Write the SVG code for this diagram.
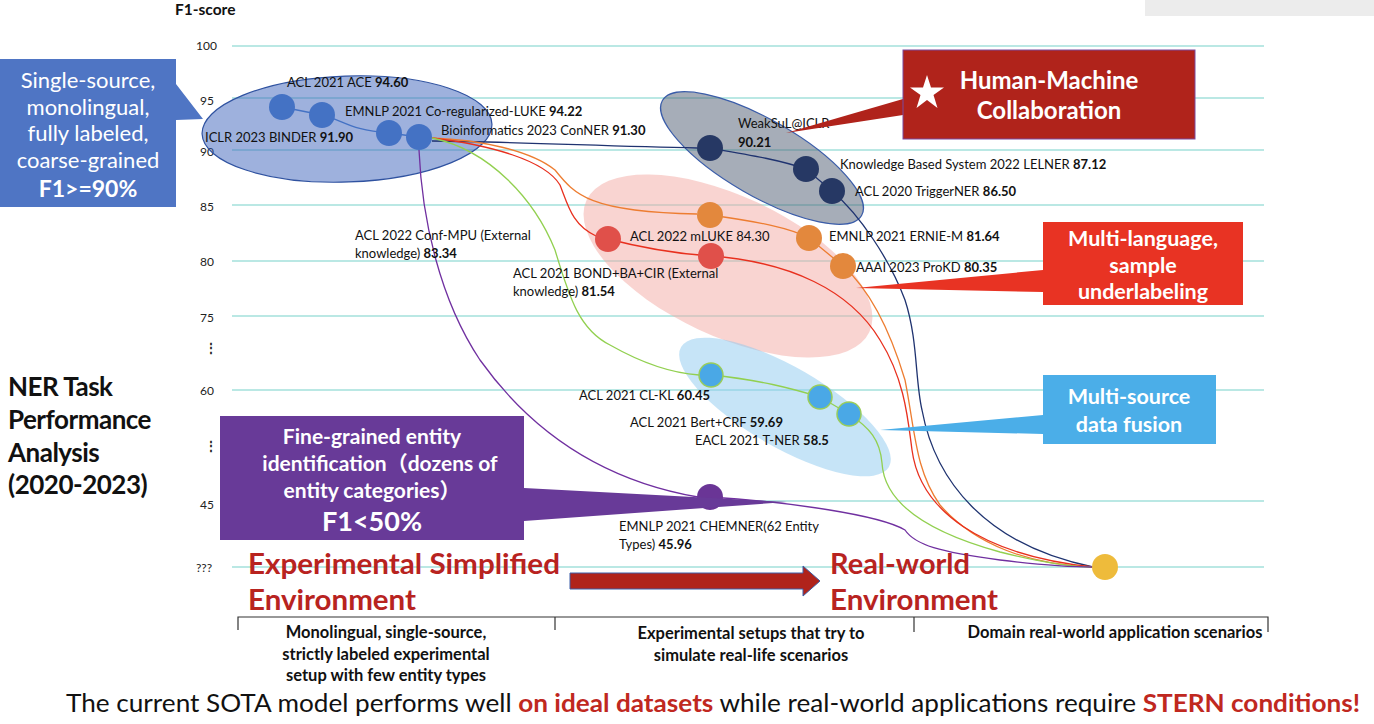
<svg xmlns="http://www.w3.org/2000/svg" width="1374" height="724" viewBox="0 0 1374 724">
<style>
text{font-family:Lato,"Noto Sans",sans-serif;}
.grid{stroke:#a3e1db;stroke-width:1.5;}
.ax{font-size:12px;fill:#222;}
.lb{font-size:13px;fill:#111;}
.lb tspan.b{font-weight:bold;}
.cw{fill:#fff;font-weight:bold;text-anchor:middle;}
.conn{fill:none;stroke-width:1.3;}
.env{fill:#b8231f;font-weight:bold;font-size:28px;}
.bt{font-size:16.5px;font-weight:bold;fill:#111;text-anchor:middle;}
</style>
<rect x="0" y="0" width="1374" height="724" fill="#fff"/>
<rect x="1145" y="0" width="229" height="16" fill="#ececec"/>
<text x="175" y="15" font-size="15.5" font-weight="bold" fill="#111">F1-score</text>

<g id="gridlines">
<line class="grid" x1="232" y1="46" x2="1264" y2="46"/>
<line class="grid" x1="232" y1="98" x2="1264" y2="98"/>
<line class="grid" x1="232" y1="150" x2="1264" y2="150"/>
<line class="grid" x1="232" y1="205" x2="1264" y2="205"/>
<line class="grid" x1="232" y1="261" x2="1264" y2="261"/>
<line class="grid" x1="232" y1="316" x2="1264" y2="316"/>
<line class="grid" x1="232" y1="390" x2="1264" y2="390"/>
<line class="grid" x1="232" y1="501" x2="1264" y2="501"/>
<line class="grid" x1="232" y1="567" x2="1264" y2="567"/>
</g>
<g id="axis-labels">
<text class="ax" x="196" y="50">100</text>
<text class="ax" x="200" y="105">95</text>
<text class="ax" x="200" y="156">90</text>
<text class="ax" x="200" y="211">85</text>
<text class="ax" x="200" y="266">80</text>
<text class="ax" x="200" y="322">75</text>
<text class="ax" x="205" y="352" font-weight="bold">⋮</text>
<text class="ax" x="200" y="395">60</text>
<text class="ax" x="205" y="450" font-weight="bold">⋮</text>
<text class="ax" x="200" y="509">45</text>
<text class="ax" x="196" y="572">???</text>
</g>

<g id="regions">
<ellipse cx="347" cy="129" rx="145" ry="53" transform="rotate(-2 347 129)" fill="#3e63bc" fill-opacity="0.5" stroke="#2f52a0" stroke-width="1.2"/>
<ellipse cx="762" cy="158" rx="115" ry="38" transform="rotate(30 762 158)" fill="#4d5b71" fill-opacity="0.5" stroke="#3a5ca8" stroke-width="1.2"/>
<ellipse cx="728" cy="266" rx="156" ry="70" transform="rotate(25 728 266)" fill="#f4a9a4" fill-opacity="0.5"/>
<ellipse cx="785" cy="407" rx="120" ry="40" transform="rotate(30 785 407)" fill="#8dc9ef" fill-opacity="0.5"/>
</g>

<g id="connectors">
<path class="conn" stroke="#4472c4" d="M282,107 L322,115 C345,121 350,130 389,133 L419,137"/>
<path class="conn" stroke="#1f3370" d="M432,141 C520,142 600,146 697,148"/>
<path class="conn" stroke="#1f3370" d="M710,148 C750,155 780,160 806,169 L832,191 C860,215 890,260 905,300 C918,340 915,380 922,410 C935,480 985,545 1093,567"/>
<path class="conn" stroke="#ed7d31" d="M432,138 C480,140 530,150 555,170 C575,195 590,212 697,214"/>
<path class="conn" stroke="#ed7d31" d="M710,215 C760,222 790,228 809,238 L843,266 C870,290 890,330 905,380 C915,430 915,470 940,505 C975,545 1030,565 1093,567"/>
<path class="conn" stroke="#e8301e" d="M432,138 C490,145 545,160 560,185 C568,205 572,225 596,236"/>
<path class="conn" stroke="#e8301e" d="M608,239 C650,250 680,254 711,256 C790,262 850,290 880,340 C905,380 908,420 912,450 C920,510 980,555 1093,567"/>
<path class="conn" stroke="#92d050" d="M432,138 C490,150 535,200 555,250 C570,300 580,330 610,345 C640,362 670,373 699,375"/>
<path class="conn" stroke="#92d050" d="M711,375 C760,380 790,388 820,397 L849,414 C870,428 880,440 882,463 C884,500 920,530 1000,552 C1040,562 1070,567 1093,567"/>
<path class="conn" stroke="#7030a0" d="M419,150 C422,220 440,300 480,360 C530,430 600,480 698,497"/>
<path class="conn" stroke="#7030a0" d="M710,497 C790,502 880,515 905,530 C915,545 940,552 1000,560 C1040,565 1070,567 1093,567"/>
</g>

<g id="nodes">
<g id="n-ace"><circle cx="282" cy="107" r="13" fill="#4472c4"/></g>
<g id="n-luke"><circle cx="322" cy="115" r="13" fill="#4472c4"/></g>
<g id="n-binder"><circle cx="389" cy="133" r="13" fill="#4472c4"/></g>
<g id="n-conner"><circle cx="419" cy="137" r="13" fill="#4472c4"/></g>
<g id="n-weaksul"><circle cx="710" cy="148" r="13" fill="#263864"/></g>
<g id="n-lelner"><circle cx="806" cy="169" r="13" fill="#263864"/></g>
<g id="n-trigger"><circle cx="832" cy="191" r="13" fill="#263864"/></g>
<g id="n-mluke-o"><circle cx="710" cy="215" r="13" fill="#e3883d"/></g>
<g id="n-ernie"><circle cx="809" cy="238" r="13" fill="#e3883d"/></g>
<g id="n-prokd"><circle cx="843" cy="266" r="13" fill="#e3883d"/></g>
<g id="n-confmpu"><circle cx="608" cy="239" r="13" fill="#e0504a"/></g>
<g id="n-bond"><circle cx="711" cy="256" r="13" fill="#e0504a"/></g>
<g id="n-clkl"><circle cx="711" cy="375" r="12" fill="#4aa8e6" stroke="#9acd5a" stroke-width="1.5"/></g>
<g id="n-bertcrf"><circle cx="820" cy="397" r="12" fill="#4aa8e6" stroke="#9acd5a" stroke-width="1.5"/></g>
<g id="n-tner"><circle cx="849" cy="414" r="12" fill="#4aa8e6" stroke="#9acd5a" stroke-width="1.5"/></g>
<g id="n-chemner"><circle cx="710" cy="497" r="13" fill="#6a3596"/></g>
<g id="n-real"><circle cx="1105" cy="567" r="13" fill="#eebb3b"/></g>
</g>

<g id="node-labels">
<text class="lb" x="287" y="87">ACL 2021 ACE <tspan class="b">94.60</tspan></text>
<text class="lb" x="345" y="116">EMNLP 2021 Co-regularized-LUKE <tspan class="b">94.22</tspan></text>
<text class="lb" x="205" y="142">ICLR 2023 BINDER <tspan class="b">91.90</tspan></text>
<text class="lb" x="441" y="135">Bioinformatics 2023 ConNER <tspan class="b">91.30</tspan></text>
<text class="lb" x="738" y="128">WeakSuL@ICLR</text>
<text class="lb" x="738" y="147"><tspan class="b">90.21</tspan></text>
<text class="lb" x="840" y="169">Knowledge Based System 2022 LELNER <tspan class="b">87.12</tspan></text>
<text class="lb" x="855" y="196">ACL 2020 TriggerNER <tspan class="b">86.50</tspan></text>
<text class="lb" x="630" y="241">ACL 2022 mLUKE 84.30</text>
<text class="lb" x="829" y="241">EMNLP 2021 ERNIE-M <tspan class="b">81.64</tspan></text>
<text class="lb" x="856" y="272">AAAI 2023 ProKD <tspan class="b">80.35</tspan></text>
<text class="lb" x="355" y="240">ACL 2022 Conf-MPU (External</text>
<text class="lb" x="355" y="258">knowledge) <tspan class="b">83.34</tspan></text>
<text class="lb" x="513" y="278">ACL 2021 BOND+BA+CIR (External</text>
<text class="lb" x="513" y="296">knowledge) <tspan class="b">81.54</tspan></text>
<text class="lb" x="579" y="400">ACL 2021 CL-KL <tspan class="b">60.45</tspan></text>
<text class="lb" x="630" y="427">ACL 2021 Bert+CRF <tspan class="b">59.69</tspan></text>
<text class="lb" x="695" y="445">EACL 2021 T-NER <tspan class="b">58.5</tspan></text>
<text class="lb" x="619" y="531">EMNLP 2021 CHEMNER(62 Entity</text>
<text class="lb" x="619" y="549">Types) <tspan class="b">45.96</tspan></text>
</g>

<g id="callout-single-source">
<path d="M0,59 H176 V84 L203,119 L176,120 V207 H0 Z" fill="#4f75c4"/>
<text x="88" y="88" font-size="22" fill="#fff" text-anchor="middle">Single-source,</text>
<text x="88" y="115" font-size="22" fill="#fff" text-anchor="middle">monolingual,</text>
<text x="88" y="141" font-size="22" fill="#fff" text-anchor="middle">fully labeled,</text>
<text x="88" y="168" font-size="22" fill="#fff" text-anchor="middle">coarse-grained</text>
<text x="88" y="197" font-size="23" class="cw">F1&gt;=90%</text>
</g>

<g id="callout-human-machine">
<polygon points="903,99 786,133 903,115" fill="#b0231b"/>
<rect x="903" y="50" width="292" height="89" fill="#b0231b" stroke="#7b4aa0" stroke-width="1"/>
<polygon points="927,75 931,87.5 944,87.5 933.5,95 937.5,108 927,100 916.5,108 920.5,95 910,87.5 923,87.5" fill="#fff"/>
<text x="1049" y="89" font-size="24" class="cw">Human-Machine</text>
<text x="1049" y="119" font-size="24" class="cw">Collaboration</text>
</g>

<g id="callout-multi-language">
<polygon points="1043,270 856,288 1043,292" fill="#e83323"/>
<rect x="1043" y="222" width="200" height="83" fill="#e83323"/>
<text x="1143" y="246" font-size="21.5" class="cw">Multi-language,</text>
<text x="1143" y="273" font-size="21.5" class="cw">sample</text>
<text x="1143" y="299" font-size="21.5" class="cw">underlabeling</text>
</g>

<g id="callout-multi-source">
<polygon points="1043,415 880,430 1043,434" fill="#4baee8"/>
<rect x="1043" y="375" width="173" height="69" fill="#4baee8"/>
<text x="1129" y="404" font-size="21.5" class="cw">Multi-source</text>
<text x="1129" y="432" font-size="21.5" class="cw">data fusion</text>
</g>

<g id="callout-fine-grained">
<polygon points="524,488 787,502 524,521" fill="#683a98"/>
<rect x="220" y="416" width="304" height="124" fill="#683a98"/>
<text x="372" y="444" font-size="21" class="cw">Fine-grained entity</text>
<text x="380" y="471" font-size="21" class="cw">identification<tspan font-family="'Noto Sans CJK SC',sans-serif">（</tspan>dozens of</text>
<text x="372" y="498" font-size="21" class="cw">entity categories<tspan font-family="'Noto Sans CJK SC',sans-serif">）</tspan></text>
<text x="372" y="531" font-size="27" class="cw">F1&lt;50%</text>
</g>

<g id="title">
<text x="8" y="396" font-size="26" font-weight="bold" fill="#111" letter-spacing="-0.5">NER Task</text>
<text x="8" y="429" font-size="26" font-weight="bold" fill="#111" letter-spacing="-0.5">Performance</text>
<text x="8" y="462" font-size="26" font-weight="bold" fill="#111" letter-spacing="-0.5">Analysis</text>
<text x="8" y="494" font-size="26" font-weight="bold" fill="#111" letter-spacing="-0.5">(2020-2023)</text>
</g>

<g id="environments">
<text class="env" x="248" y="574" textLength="312" lengthAdjust="spacingAndGlyphs">Experimental Simplified</text>
<text class="env" x="248" y="610" textLength="168" lengthAdjust="spacingAndGlyphs">Environment</text>
<text class="env" x="830" y="574" textLength="140" lengthAdjust="spacingAndGlyphs">Real-world</text>
<text class="env" x="830" y="610" textLength="168" lengthAdjust="spacingAndGlyphs">Environment</text>
<path d="M570,573 H803 V566 L820,581 L803,596 V589 H570 Z" fill="#b0231b" stroke="#3d5fa8" stroke-width="1"/>
</g>

<g id="bracket" stroke="#333" stroke-width="1.2" fill="none">
<path d="M238,630 V617 H1268 V632"/>
<path d="M555,617 V630"/>
<path d="M914,617 V632"/>
</g>
<g id="bottom-texts">
<text class="bt" x="386" y="638">Monolingual, single-source,</text>
<text class="bt" x="386" y="660">strictly labeled experimental</text>
<text class="bt" x="386" y="681">setup with few entity types</text>
<text class="bt" x="751" y="639">Experimental setups that try to</text>
<text class="bt" x="751" y="661">simulate real-life scenarios</text>
<text class="bt" x="1115" y="638">Domain real-world application scenarios</text>
</g>
<text x="66" y="712" font-size="25.5" fill="#111" textLength="1294" lengthAdjust="spacingAndGlyphs">The current SOTA model performs well <tspan fill="#c0281f" font-weight="bold">on ideal datasets</tspan> while real-world applications require <tspan fill="#c0281f" font-weight="bold">STERN conditions!</tspan></text>
</svg>
